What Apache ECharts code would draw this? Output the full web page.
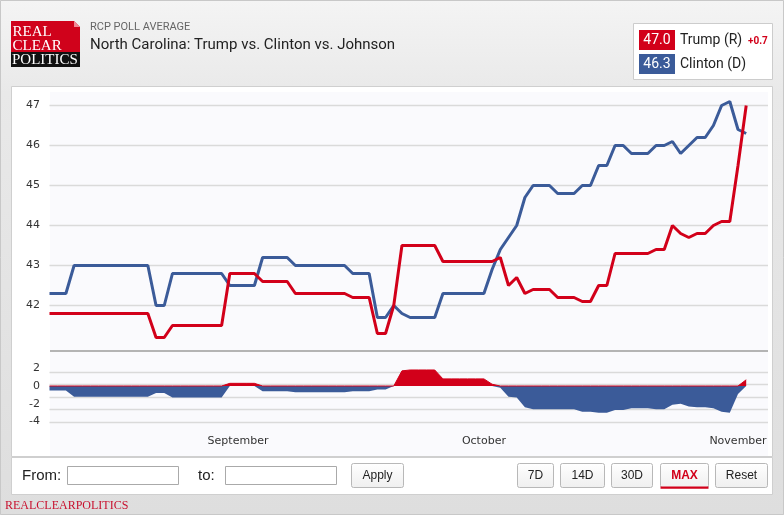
<!DOCTYPE html>
<html><head><meta charset="utf-8">
<script src="https://cdn.jsdelivr.net/npm/echarts@6/dist/echarts.min.js"></script>
<style>html,body{margin:0;padding:0;width:784px;height:515px;overflow:hidden;background:#e4e4e4}#c{width:784px;height:515px}</style>
</head><body><div id="c"></div>
<script>
// ---- data ----
const startDate = '2016-08-09'; // first daily value
const trump = [41.8,41.8,41.8,41.8,41.8,41.8,41.8,41.8,41.8,41.8,41.8,41.8,41.8,
  41.2,41.2,
  41.5,41.5,41.5,41.5,41.5,41.5,41.5,
  42.8,42.8,42.8,42.8,
  42.6,42.6,42.6,42.6,
  42.3,42.3,42.3,42.3,42.3,42.3,42.3,
  42.2,42.2,42.2,
  41.3,41.3,
  42.0,
  43.5,43.5,43.5,43.5,43.5,
  43.1,43.1,43.1,43.1,43.1,43.1,43.1,
  43.2,42.5,42.7,42.3,
  42.4,42.4,42.4,
  42.2,42.2,42.2,
  42.1,42.1,
  42.5,42.5,
  43.3,43.3,43.3,43.3,43.3,
  43.4,43.4,
  44.0,43.8,43.7,43.8,43.8,44.0,44.1,44.1,45.5,47.0];
const clinton = [42.3,42.3,42.3,
  43.0,43.0,43.0,43.0,43.0,43.0,43.0,43.0,43.0,43.0,
  42.0,42.0,
  42.8,42.8,42.8,42.8,42.8,42.8,42.8,
  42.5,42.5,42.5,42.5,
  43.2,43.2,43.2,43.2,
  43.0,43.0,43.0,43.0,43.0,43.0,43.0,
  42.8,42.8,42.8,
  41.7,41.7,
  42.0,41.8,
  41.7,41.7,41.7,41.7,
  42.3,42.3,42.3,42.3,42.3,42.3,
  42.9,43.4,43.7,44.0,44.7,
  45.0,45.0,45.0,
  44.8,44.8,44.8,
  45.0,45.0,
  45.5,45.5,
  46.0,46.0,
  45.8,45.8,45.8,
  46.0,46.0,
  46.1,45.8,46.0,46.2,46.2,46.5,47.0,47.1,46.4,46.3];
const monthTicks = ['2016-09-01','2016-10-01','2016-11-01'];
const monthLabels = ['September','October','November'];
const mainYLabels = [42,43,44,45,46,47];
const spreadYLabels = [2,0,-2,-4];

// ---- derived ----
const DAY = 86400000;
const t0 = new Date(startDate + 'T00:00:00').getTime();
const dayIndex = s => Math.round((new Date(s + 'T00:00:00').getTime() - t0) / DAY);
const tickDays = monthTicks.map(dayIndex);
const xMax = 87.66;
const trumpData = trump.map((v,i)=>[i,v]);
const clintonData = clinton.map((v,i)=>[i,v]);
const spread = trump.map((v,i)=>Math.round((v - clinton[i])*10)/10);
const spreadPos = spread.map((d,i)=>[i, Math.max(0,d)]);
const spreadNeg = spread.map((d,i)=>[i, Math.min(0,d)]);
const lastT = trump[trump.length-1], lastC = clinton[clinton.length-1];
const lastSpread = Math.round((lastT-lastC)*10)/10;

const RED = '#d2001a', BLUE = '#3b5b99';
const axisFont = {fontFamily:'DejaVu Sans', fontSize:11, color:'#333'};

function txt(x,y,text,font,fill,align,valign,z){
  return {type:'text', z:z||20, style:{x:x,y:y,text:text,font:font,fill:fill,
    textAlign:align||'left', align:align||'left', textVerticalAlign:valign||'middle', verticalAlign:valign||'middle'}};
}
function rect(x,y,w,h,fill,stroke,z,r){
  return {type:'rect', z:z, shape:{x:x,y:y,width:w,height:h,r:r||0}, style:{fill:fill,stroke:stroke||null,lineWidth:1}};
}
function button(x1,x2,label,active){
  const els=[];
  els.push({type:'rect', z:10, shape:{x:x1+0.5,y:463.5,width:x2-x1,height:24,r:2},
    style:{fill:new echarts.graphic.LinearGradient(0,0,0,1,[{offset:0,color:'#ffffff'},{offset:1,color:'#efefef'}]),stroke:'#b8b8b8',lineWidth:1}});
  els.push(txt((x1+x2)/2+0.5,476,label,(active?'bold ':'')+'12px "Liberation Sans", Arial',active?'#d2001a':'#222','center','middle',12));
  if(active) els.push(rect(x1+0.5,486.5,x2-x1,2.2,'#d2001a',null,13));
  return els;
}

const graphics = [
  {type:'rect', z:-10, shape:{x:0.5,y:0.5,width:783,height:514},
   style:{fill:new echarts.graphic.LinearGradient(0,0,0,1,[{offset:0,color:'#f4f4f4'},{offset:0.18,color:'#e9e9e9'},{offset:1,color:'#dedede'}]),stroke:'#c8c8c8',lineWidth:1}},
  rect(11.5,86.5,761,370,'#ffffff','#cfcfcf',-9),
  rect(50,92,718,364,'#fafafd',null,-8),
  {type:'line', z:5, shape:{x1:50,y1:351,x2:768,y2:351}, style:{stroke:'#b4b4b4',lineWidth:2}},
  rect(11.5,457.5,761,37,'#ffffff','#cfcfcf',-9),
  // logo
  {type:'polygon', z:10, shape:{points:[[11,21],[74,21],[80,27],[80,52],[11,52]]}, style:{fill:'#d0021b'}},
  {type:'polygon', z:11, shape:{points:[[74,21],[80,27],[74,27]]}, style:{fill:'#f08a96'}},
  rect(11,52,69,15,'#111111',null,10),
  txt(12.5,32.5,'REAL','15px "Liberation Serif", "Times New Roman", serif','#ffffff','left','middle'),
  txt(12.5,46,'CLEAR','15px "Liberation Serif", "Times New Roman", serif','#ffffff','left','middle'),
  txt(12,60,'POLITICS','15px "Liberation Serif", "Times New Roman", serif','#ffffff','left','middle'),
  // titles
  txt(90,27,'RCP POLL AVERAGE','11px Roboto, "Noto Sans", sans-serif','#666666','left','middle'),
  txt(90,45,'North Carolina: Trump vs. Clinton vs. Johnson','15px Roboto, "Noto Sans", sans-serif','#222222','left','middle'),
  // legend
  rect(633.5,23.5,139,56,'#ffffff','#cccccc',10),
  rect(639,30,36,20,RED,null,11),
  rect(639,54,36,20,BLUE,null,11),
  txt(657,40.5,lastT.toFixed(1),'14px Roboto, sans-serif','#ffffff','center','middle'),
  txt(657,64.5,lastC.toFixed(1),'14px Roboto, sans-serif','#ffffff','center','middle'),
  txt(680,40,'Trump (R)','14px Roboto, sans-serif','#222222','left','middle'),
  txt(680,64,'Clinton (D)','14px Roboto, sans-serif','#222222','left','middle'),
  txt(748,41,(lastSpread>=0?'+':'')+lastSpread.toFixed(1),'bold 10px Roboto, sans-serif',RED,'left','middle'),
  // controls
  txt(22,475.5,'From:','15px "Liberation Sans", Arial, sans-serif','#222222','left','middle'),
  rect(67.5,466.5,111,18,'#ffffff','#aaaaaa',10),
  txt(198,475.5,'to:','15px "Liberation Sans", Arial, sans-serif','#222222','left','middle'),
  rect(225.5,466.5,111,18,'#ffffff','#aaaaaa',10),
  ...button(351,403,'Apply',false),
  ...button(517,553,'7D',false),
  ...button(560,604,'14D',false),
  ...button(611,652,'30D',false),
  ...button(660,708,'MAX',true),
  ...button(715,767,'Reset',false),
  txt(5,505.5,'REALCLEARPOLITICS','12px "Liberation Serif", "Times New Roman", serif','#c8102e','left','middle')
];

const chart = echarts.init(document.getElementById('c'), null, {renderer:'canvas'});
chart.setOption({
  animation:false,
  backgroundColor:'transparent',
  graphic:{elements:graphics},
  grid:[
    {left:49.5, right:16, top:92.3, bottom:169.5},
    {left:49.5, right:16, top:350.4, bottom:75.6},
    {left:49.5, right:16, top:372, bottom:93}
  ],
  xAxis:[
    {gridIndex:0, type:'value', min:0, max:xMax, show:false},
    {gridIndex:1, type:'value', min:0, max:xMax, show:false},
    {gridIndex:2, type:'value', min:0, max:xMax, interval:1,
     axisLine:{show:false}, axisTick:{show:false}, splitLine:{show:false},
     axisLabel:Object.assign({margin:14, showMinLabel:true, showMaxLabel:false, hideOverlap:false,
       formatter:function(v){ const r=Math.round(v); if(Math.abs(v-r)>1e-6) return ''; const k=tickDays.indexOf(r); return k>=0?monthLabels[k]:''; }}, axisFont)}
  ],
  yAxis:[
    {gridIndex:0, type:'value', min:41, max:47.33, interval:1,
     axisLine:{show:false}, axisTick:{show:false},
     splitLine:{show:true, showMinLine:false, showMaxLine:false, lineStyle:{color:'#dadada', width:1.3}},
     axisLabel:Object.assign({margin:9.5, formatter:function(v){ return mainYLabels.indexOf(v)>=0 ? String(v) : ''; }}, axisFont)},
    {gridIndex:1, type:'value', min:-6, max:4, interval:2,
     axisLine:{show:false}, axisTick:{show:false}, splitLine:{show:false},
     axisLabel:Object.assign({margin:9.5, formatter:function(v){ return spreadYLabels.indexOf(v)>=0 ? String(v) : ''; }}, axisFont)},
    {gridIndex:2, type:'value', min:0, max:4, interval:1,
     axisLine:{show:false}, axisTick:{show:false}, axisLabel:{show:false},
     splitLine:{show:true, lineStyle:{color:'#dadada', width:1.3}}}
  ],
  series:[
    {type:'line', name:'Clinton (D)', xAxisIndex:0, yAxisIndex:0, data:clintonData, showSymbol:false, symbol:'none',
     lineStyle:{color:BLUE, width:3}, itemStyle:{color:BLUE}, z:3},
    {type:'line', name:'Trump (R)', xAxisIndex:0, yAxisIndex:0, data:trumpData, showSymbol:false, symbol:'none',
     lineStyle:{color:RED, width:3}, itemStyle:{color:RED}, z:4},
    {type:'line', name:'spread-', xAxisIndex:1, yAxisIndex:1, data:spreadNeg, showSymbol:false, symbol:'none',
     lineStyle:{width:0, color:BLUE}, areaStyle:{color:BLUE, opacity:1, origin:0}, z:3},
    {type:'line', name:'spread+', xAxisIndex:1, yAxisIndex:1, data:spreadPos, showSymbol:false, symbol:'none',
     lineStyle:{width:1, color:RED}, areaStyle:{color:RED, opacity:1, origin:0}, z:4}
  ]
});
</script></body></html>
